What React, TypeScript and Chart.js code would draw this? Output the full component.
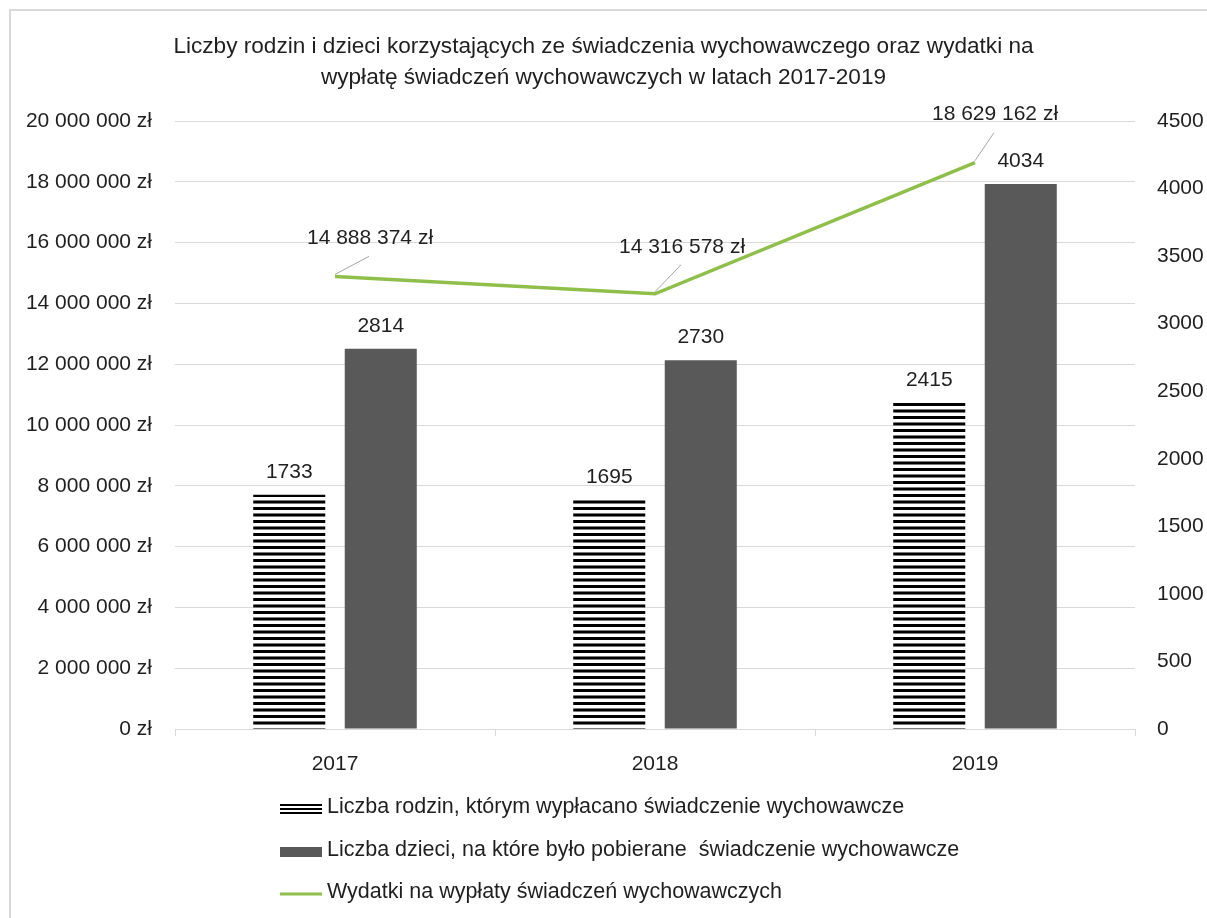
import React, { useEffect, useRef } from 'react';
import { Chart, registerables } from 'chart.js';

Chart.register(...registerables);

// ---------- DATA ----------
const categories: string[] = ['2017', '2018', '2019'];
const familiesCount: number[] = [1733, 1695, 2415];
const childrenCount: number[] = [2814, 2730, 4034];
const expenses: number[] = [14888374, 14316578, 18629162];

const leftMax = 20000000;
const leftStep = 2000000;
const rightMax = 4500;
const rightStep = 500;

const titleLines: string[] = [
  'Liczby rodzin i dzieci korzystających ze świadczenia wychowawczego oraz wydatki na',
  'wypłatę świadczeń wychowawczych w latach 2017-2019',
];
const seriesNames: string[] = [
  'Liczba rodzin, którym wypłacano świadczenie wychowawcze',
  'Liczba dzieci, na które było pobierane  świadczenie wychowawcze',
  'Wydatki na wypłaty świadczeń wychowawczych',
];

// ---------- STYLE ----------
const TEXT = '#1f1f1f';
const GRID = '#d9d9d9';
const DARK = '#595959';
const GREEN = '#8fbf4a';
// label placement for line labels (dx, dy from point)
const lineLabelOffsets: number[][] = [
  [35, -38],
  [27, -47],
  [20, -48],
];

function fmtSpaces(n: number): string {
  return String(Math.round(n)).replace(/\B(?=(\d{3})+(?!\d))/g, ' ');
}
function fmtZl(n: number): string {
  return fmtSpaces(n) + ' zł';
}

function pickFont(): { family: string; size: number; titleSize: number; legendSize: number } {
  try {
    const c = document.createElement('canvas').getContext('2d')!;
    const sample = 'Liczby rodzin 2017 zł';
    c.font = '24px monospace';
    const base = c.measureText(sample).width;
    c.font = "24px 'Liberation Sans Narrow', monospace";
    const w = c.measureText(sample).width;
    if (Math.abs(w - base) > 0.5)
      return { family: "'Liberation Sans Narrow', 'Arial Narrow', sans-serif", size: 26, titleSize: 26, legendSize: 26 };
  } catch (e) {}
  return { family: "'Liberation Sans', Arial, sans-serif", size: 21, titleSize: 22.6, legendSize: 21.5 };
}

function makeStripePattern(ctx: CanvasRenderingContext2D): CanvasPattern | string {
  const pc = document.createElement('canvas');
  pc.width = 4;
  pc.height = 13;
  const p = pc.getContext('2d')!;
  p.fillStyle = '#ffffff';
  p.fillRect(0, 0, 4, 13);
  p.fillStyle = '#000000';
  p.fillRect(0, 0, 4, 3);
  p.fillRect(0, 7, 4, 2);
  p.fillStyle = '#7a7a7a';
  p.fillRect(0, 6, 4, 1);
  p.fillRect(0, 9, 4, 1);
  const pat = ctx.createPattern(pc, 'repeat');
  return pat || '#000';
}

export default function App() {
  const canvasRef = useRef<HTMLCanvasElement | null>(null);

  useEffect(() => {
    document.body.style.margin = '0';
    const canvas = canvasRef.current!;
    const ctx = canvas.getContext('2d')!;
    const { family, size, titleSize, legendSize } = pickFont();
    const font = { family, size, weight: 'normal' as const };
    const stripes = makeStripePattern(ctx);

    const decor = {
      id: 'decor',
      beforeDraw(chart: any) {
        const c = chart.ctx;
        c.save();
        c.fillStyle = '#ffffff';
        c.fillRect(0, 0, chart.width, chart.height);
        c.strokeStyle = GRID;
        c.lineWidth = 2;
        c.strokeRect(10, 10, chart.width + 20, chart.height + 20);
        c.restore();
      },
      afterDatasetsDraw(chart: any) {
        const c = chart.ctx;
        c.save();
        c.font = `${size}px ${family}`;
        c.fillStyle = TEXT;
        c.textAlign = 'center';
        c.textBaseline = 'middle';
        // bar labels
        [0, 1].forEach((di) => {
          const meta = chart.getDatasetMeta(di);
          const vals = chart.data.datasets[di].data as number[];
          meta.data.forEach((el: any, i: number) => {
            c.fillText(String(vals[i]), el.x, el.y - 23);
          });
        });
        // line labels with leader lines
        const lm = chart.getDatasetMeta(2);
        const lv = chart.data.datasets[2].data as number[];
        lm.data.forEach((el: any, i: number) => {
          const off = lineLabelOffsets[i];
          const cx = el.x + off[0];
          const cy = el.y + off[1];
          c.strokeStyle = '#a6a6a6';
          c.lineWidth = 1;
          c.beginPath();
          c.moveTo(el.x, el.y - 2);
          c.lineTo(cx - 1, cy + 18);
          c.stroke();
          c.fillStyle = TEXT;
          c.fillText(fmtZl(lv[i]), cx, cy);
        });
        c.restore();
      },
      afterDraw(chart: any) {
        const c = chart.ctx;
        const base = chart.chartArea.bottom;
        const symX = 280;
        const symW = 42;
        const textX = 327;
        const rows = [base + 78, base + 121, base + 163];
        c.save();
        c.font = `${legendSize}px ${family}`;
        c.textAlign = 'left';
        c.textBaseline = 'middle';
        // striped symbol
        c.fillStyle = '#000';
        [-4, 0, 4].forEach((d) => c.fillRect(symX, rows[0] + 2 + d - 1, symW, 2));
        // dark symbol
        c.fillStyle = DARK;
        c.fillRect(symX, rows[1] + 2 - 5, symW, 10);
        // green symbol
        c.strokeStyle = GREEN;
        c.lineWidth = 3;
        c.beginPath();
        c.moveTo(symX, rows[2] + 2);
        c.lineTo(symX + symW, rows[2] + 2);
        c.stroke();
        c.fillStyle = TEXT;
        seriesNames.forEach((n, i) => c.fillText(n, textX, rows[i]));
        c.restore();
      },
    };

    const chart = new Chart(canvas, {
      type: 'bar',
      data: {
        labels: categories,
        datasets: [
          {
            type: 'bar',
            label: seriesNames[0],
            data: familiesCount,
            yAxisID: 'y1',
            backgroundColor: stripes as any,
            borderWidth: 0,
            categoryPercentage: 0.572,
            barPercentage: 0.787,
            order: 1,
          },
          {
            type: 'bar',
            label: seriesNames[1],
            data: childrenCount,
            yAxisID: 'y1',
            backgroundColor: DARK,
            borderWidth: 0,
            categoryPercentage: 0.572,
            barPercentage: 0.787,
            order: 1,
          },
          {
            type: 'line',
            label: seriesNames[2],
            data: expenses,
            yAxisID: 'y',
            borderColor: GREEN,
            backgroundColor: GREEN,
            borderWidth: 3.5,
            pointRadius: 0,
            tension: 0,
            order: 0,
          } as any,
        ],
      },
      options: {
        responsive: false,
        animation: false,
        layout: { padding: { top: 0, bottom: 139, left: 0, right: 0 } },
        plugins: {
          legend: { display: false },
          tooltip: { enabled: false },
          title: {
            display: true,
            text: titleLines,
            color: TEXT,
            font: { family, size: titleSize, weight: 'normal', lineHeight: 31.2 / titleSize },
            padding: { top: 31, bottom: 27.6 },
          },
        },
        scales: {
          x: {
            grid: { drawOnChartArea: false, drawTicks: true, tickLength: 7, color: GRID, offset: true },
            border: { color: GRID, width: 1 },
            ticks: { font, color: TEXT, padding: 16, maxRotation: 0 },
            afterFit: (s: any) => {
              s.height = 50;
            },
          },
          y: {
            position: 'left',
            min: 0,
            max: leftMax,
            ticks: { stepSize: leftStep, callback: (v: any) => fmtZl(Number(v)), padding: 23, font, color: TEXT },
            grid: { color: GRID, drawTicks: false },
            border: { display: false },
            afterFit: (s: any) => {
              s.width = 175;
            },
          },
          y1: {
            position: 'right',
            min: 0,
            max: rightMax,
            ticks: { stepSize: rightStep, callback: (v: any) => String(v), padding: 22, font, color: TEXT },
            grid: { drawOnChartArea: false, drawTicks: false },
            border: { display: false },
            afterFit: (s: any) => {
              s.width = 72;
            },
          },
        },
      } as any,
      plugins: [decor as any],
    });

    return () => {
      chart.destroy();
    };
  }, []);

  return (
    <div style={{ width: 1207, height: 918, background: '#fff' }}>
      <canvas ref={canvasRef} width={1207} height={918} style={{ display: 'block' }} />
    </div>
  );
}
